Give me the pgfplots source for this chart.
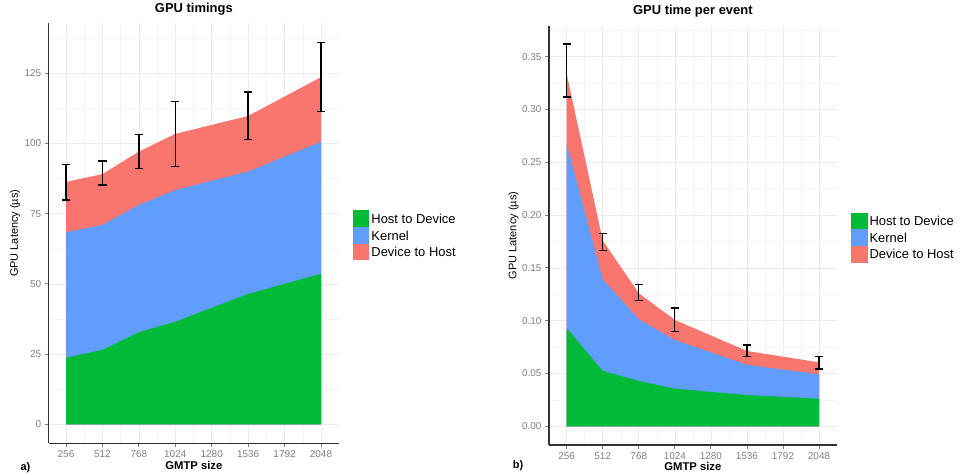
\documentclass[border=0pt]{standalone}
\usepackage{fontspec}
\setmainfont{Liberation Sans}
\usepackage{pgfplots}
\pgfplotsset{compat=1.18}
\definecolor{cgreen}{HTML}{00BA38}
\definecolor{cblue}{HTML}{619CFF}
\definecolor{cred}{HTML}{F8766D}
\definecolor{tickc}{HTML}{7F7F7F}
\definecolor{axisc}{HTML}{333333}
\definecolor{gridmaj}{HTML}{EBEBEB}
\definecolor{gridmin}{HTML}{F4F4F4}
\pgfplotsset{
  gg/.style={
    scale only axis,
    axis x line*=bottom, axis y line*=left,
    axis line style={-, color=axisc, line width=1.2bp},
    tick align=outside,
    major tick length=4bp,
    minor tick length=0pt,
    tick style={color=tickc, line width=0.8bp},
    grid=both,
    major grid style={color=gridmaj, line width=0.6bp},
    minor grid style={color=gridmin, line width=0.5bp},
    ticklabel style={font=\fontsize{10}{12}\selectfont, text=tickc},
    /pgf/number format/assume math mode=true,
    /pgf/number format/1000 sep={},
    xtick={256,512,768,1024,1280,1536,1792,2048},
    minor xtick={384,640,896,1152,1408,1664,1920},
    ylabel style={font=\fontsize{11}{13}\selectfont, anchor=center},
    xlabel style={font=\bfseries\fontsize{11.3}{13}\selectfont, at={(axis description cs:0.5,0)}, anchor=center, yshift=-21.7bp},
    title style={font=\bfseries\fontsize{13}{15}\selectfont, at={(axis description cs:0.5,1)}, anchor=center},
    legend cell align=left,
    legend style={draw=none, fill=none, inner sep=0pt, row sep=0pt, column sep=0pt,
      font=\fontsize{13}{15}\selectfont,
      nodes={inner xsep=2bp, inner ysep=0pt, text height=9.4bp, text depth=0pt},
      anchor=west},
    legend image code/.code={\fill[##1] (0bp,-8.35bp) rectangle (16.6bp,8.35bp);},
    area/.style={draw=none, forget plot},
    eb/.style={draw=none, mark=none, forget plot,
      error bars/.cd, y dir=both, y explicit,
      error bar style={black, line width=1.3bp},
      error mark options={rotate=90, mark size=4.2bp, line width=1.3bp, black}},
  }
}
\begin{document}
\begin{tikzpicture}
\useasboundingbox (0,0) rectangle (960bp,475bp);
% ---------------- panel a ----------------
\begin{axis}[gg,
  at={(48.7bp,31.7bp)}, anchor=south west,
  width=290.3bp, height=420bp,
  xmin=134.4, xmax=2174.5,
  ymin=-6.77, ymax=142.8,
  ytick={0,25,50,75,100,125},
  minor ytick={12.5,37.5,62.5,87.5,112.5,137.5},
  title={GPU timings}, title style={yshift=8bp},
  xlabel={GMTP size},
  ylabel={GPU Latency (µs)},
  ylabel style={at={(axis description cs:-0.116,0.5)}},
  legend style={at={(axis description cs:1.047,0.495)}},
]
\addplot[area, fill=cred] coordinates {(256,0) (256,86.3) (512,89.1) (768,97.1) (1024,103.4) (1536,109.8) (2048,123.6) (2048,0)};
\addplot[area, fill=cblue] coordinates {(256,0) (256,68.4) (512,71.0) (768,78.1) (1024,83.4) (1536,90.0) (2048,100.6) (2048,0)};
\addplot[area, fill=cgreen] coordinates {(256,0) (256,23.7) (512,26.5) (768,32.8) (1024,36.5) (1536,46.4) (2048,53.6) (2048,0)};
\addplot[eb] coordinates {
  (256,86.25) +- (0,6.35)
  (512,89.5) +- (0,4.3)
  (768,97.15) +- (0,5.95)
  (1024,103.4) +- (0,11.5)
  (1536,109.9) +- (0,8.4)
  (2048,123.75) +- (0,12.25)
};
\addlegendimage{fill=cgreen, draw=none}
\addlegendentry{Host to Device}
\addlegendimage{fill=cblue, draw=none}
\addlegendentry{Kernel}
\addlegendimage{fill=cred, draw=none}
\addlegendentry{Device to Host}
\end{axis}
% ---------------- panel b ----------------
\begin{axis}[gg,
  at={(549bp,30bp)}, anchor=south west,
  width=287.7bp, height=419bp,
  xmin=130.3, xmax=2173.7,
  ymin=-0.0177, ymax=0.379,
  ytick={0,0.05,0.10,0.15,0.20,0.25,0.30,0.35},
  minor ytick={0.025,0.075,0.125,0.175,0.225,0.275,0.325,0.375},
  yticklabel style={/pgf/number format/.cd, fixed, fixed zerofill, precision=2},
  scaled y ticks=false,
  title={GPU time per event}, title style={yshift=8.8bp},
  xlabel={GMTP size},
  ylabel={GPU Latency (µs)},
  ylabel style={at={(axis description cs:-0.123,0.5)}},
  legend style={at={(axis description cs:1.0487,0.495)}},
]
\addplot[area, fill=cred] coordinates {(256,0) (256,0.3336) (512,0.1758) (768,0.1260) (1024,0.1007) (1536,0.0713) (2048,0.0606) (2048,0)};
\addplot[area, fill=cblue] coordinates {(256,0) (256,0.2673) (512,0.1392) (768,0.1013) (1024,0.0817) (1536,0.0583) (2048,0.0492) (2048,0)};
\addplot[area, fill=cgreen] coordinates {(256,0) (256,0.0928) (512,0.0524) (768,0.0429) (1024,0.0356) (1536,0.0296) (2048,0.0261) (2048,0)};
\addplot[eb] coordinates {
  (256,0.3369) +- (0,0.0251)
  (512,0.17455) +- (0,0.00825)
  (768,0.12675) +- (0,0.00775)
  (1024,0.101) +- (0,0.011)
  (1536,0.07145) +- (0,0.00555)
  (2048,0.0603) +- (0,0.006)
};
\addlegendimage{fill=cgreen, draw=none}
\addlegendentry{Host to Device}
\addlegendimage{fill=cblue, draw=none}
\addlegendentry{Kernel}
\addlegendimage{fill=cred, draw=none}
\addlegendentry{Device to Host}
\end{axis}
\node[font=\bfseries\fontsize{11}{13}\selectfont] at (25.5bp,7bp) {a)};
\node[font=\bfseries\fontsize{11}{13}\selectfont] at (518bp,9bp) {b)};
\end{tikzpicture}
\end{document}
